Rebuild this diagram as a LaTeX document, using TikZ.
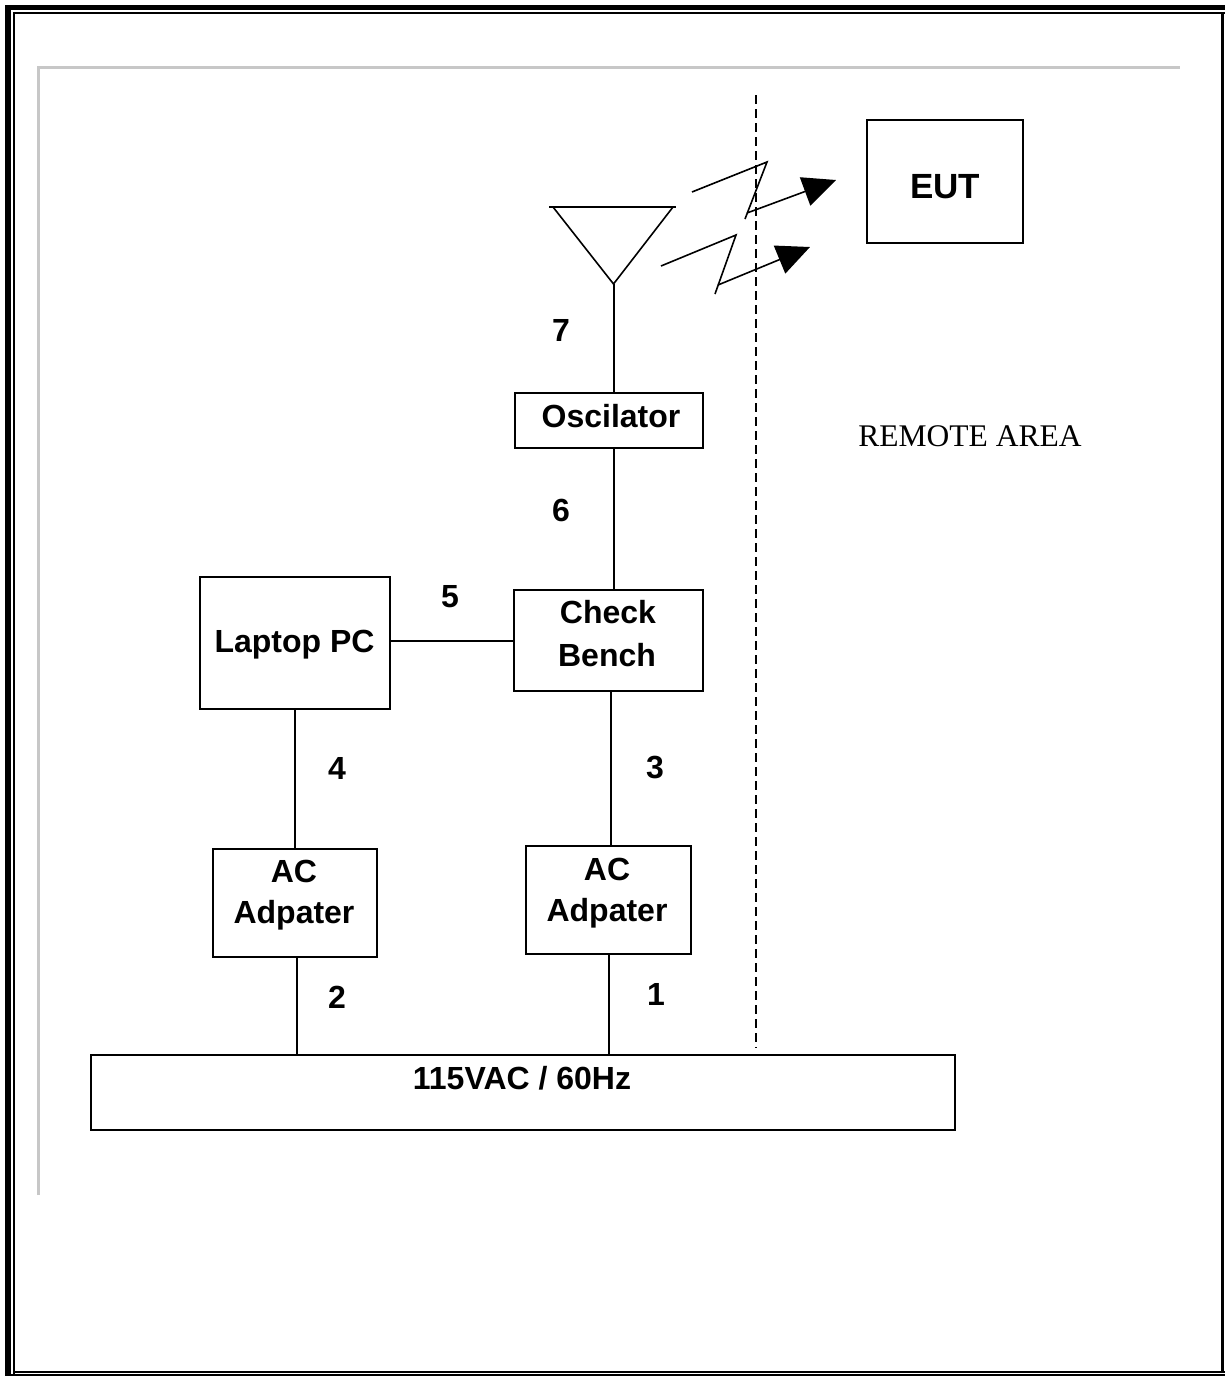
\documentclass[tikz,border=0pt]{standalone}
\usepackage{fontspec}
\setmainfont{Liberation Sans}
\newfontfamily\remotefont{Liberation Serif}
\usetikzlibrary{arrows.meta,calc}
\tikzset{
  box/.style={draw=black, line width=2pt, inner sep=0pt, minimum width=#1},
  conn/.style={draw=black, line width=2pt},
  txt/.style={inner sep=0pt, font=\bfseries\fontsize{32}{43}\selectfont, text height=22.9pt, text depth=0pt},
  num/.style={txt},
  wave/.style={draw=black, line width=1.6pt},
  wavearrow/.style={wave, -{Triangle[length=33pt, width=30pt]}},
  framegray/.style={draw=black!22, line width=3pt},
}
\begin{document}
\begin{tikzpicture}[x=1pt, y=-1pt]
\useasboundingbox (0,0) rectangle (1225,1376);
% outer double border
\fill[black] (5,5) rectangle (1225,10);
\fill[black] (5,5) rectangle (11,1376);
\draw[line width=1.7pt] (13.8,1376) -- (13.8,12.8) -- (1225,12.8);
\draw[line width=3pt] (1222.5,12.8) -- (1222.5,1371.7);
\draw[line width=2pt] (13.8,1371.7) -- (1225,1371.7);
\draw[line width=1.5pt] (11,1375) -- (1225,1375);
% gray inner frame
\draw[framegray] (38.5,1195) -- (38.5,67.5) -- (1180,67.5);
% remote area dashed boundary
\draw[line width=1.6pt, dash pattern=on 9pt off 5pt] (756,95) -- (756,1048);

% boxes
\node[box=190pt, minimum height=132pt] (laptop) at (295,643) {};
\node[box=189pt, minimum height=101pt] (bench) at (608.5,640.5) {};
\node[box=188pt, minimum height=55pt] (osc) at (609,420.5) {};
\node[box=164pt, minimum height=108pt] (adL) at (295,903) {};
\node[box=165pt, minimum height=108pt] (adR) at (608.5,900) {};
\node[box=864pt, minimum height=75pt] (strip) at (523,1092.5) {};
\node[box=156pt, minimum height=123pt] (eut) at (945,181.5) {};

% texts
\node[txt] (tlaptop) at (294.5,641.5) {Laptop PC};
\node[txt] (tbench1) at (608,612) {Check};
\node[txt] (tbench2) at (607,655) {Bench};
\node[txt] (tosc) at (611,416) {Oscilator};
\node[txt] (tadL1) at (294,871) {AC};
\node[txt] (tadL2) at (294,912.5) {Adpater};
\node[txt] (tadR1) at (607,869.5) {AC};
\node[txt] (tadR2) at (607,910.5) {Adpater};
\node[txt] (tstrip) at (522,1078) {115VAC / 60Hz};
\node[txt, font=\bfseries\fontsize{35}{40}\selectfont, text height=25pt] (teut) at (945,186) {EUT};
\node[inner sep=0pt, font=\remotefont\fontsize{31.5}{36}\selectfont, text height=20.9pt, text depth=0pt] (remote) at (970,436) {REMOTE AREA};

% numbers
\node[num] (n7) at (561,330) {7};
\node[num] (n6) at (561,510) {6};
\node[num] (n5) at (450,596) {5};
\node[num] (n4) at (337,768) {4};
\node[num] (n3) at (655,767) {3};
\node[num] (n2) at (337,997) {2};
\node[num] (n1) at (656,994) {1};

% antenna
\coordinate (apex) at (613.5,284);
\coordinate (antL) at (553,207);
\coordinate (antR) at (673,207);
\draw[line width=2.5pt] (549,207) -- (676,207);
\draw[line width=1.6pt] (antL) -- (apex) -- (antR);

% connectors
\draw[conn] (apex) -- (apex |- osc.north);
\draw[conn] (apex |- osc.south) -- (apex |- bench.north);
\draw[conn] (laptop.east |- bench.west) -- (bench.west);
\draw[conn] ([xshift=2.5pt]bench.south) -- ([xshift=2.5pt]bench.south |- adR.north);
\draw[conn] (laptop.south) -- (laptop.south |- adL.north);
\draw[conn] ([xshift=2pt]adL.south) -- ([xshift=2pt]adL.south |- strip.north);
\draw[conn] ([xshift=0.5pt]adR.south) -- ([xshift=0.5pt]adR.south |- strip.north);

% radio waves
\coordinate (a1) at (692,192);
\coordinate (b1) at (767,162);
\coordinate (c1) at (745,219);
\coordinate (d1) at (747,213);
\coordinate (t1) at (836,180);
\draw[wave] (a1) -- (b1) -- (c1);
\draw[wavearrow] (d1) -- (t1);
\coordinate (a2) at (661,266);
\coordinate (b2) at (736,235);
\coordinate (c2) at (715,294);
\coordinate (d2) at (718,285);
\coordinate (t2) at (810,247);
\draw[wave] (a2) -- (b2) -- (c2);
\draw[wavearrow] (d2) -- (t2);
\end{tikzpicture}
\end{document}
